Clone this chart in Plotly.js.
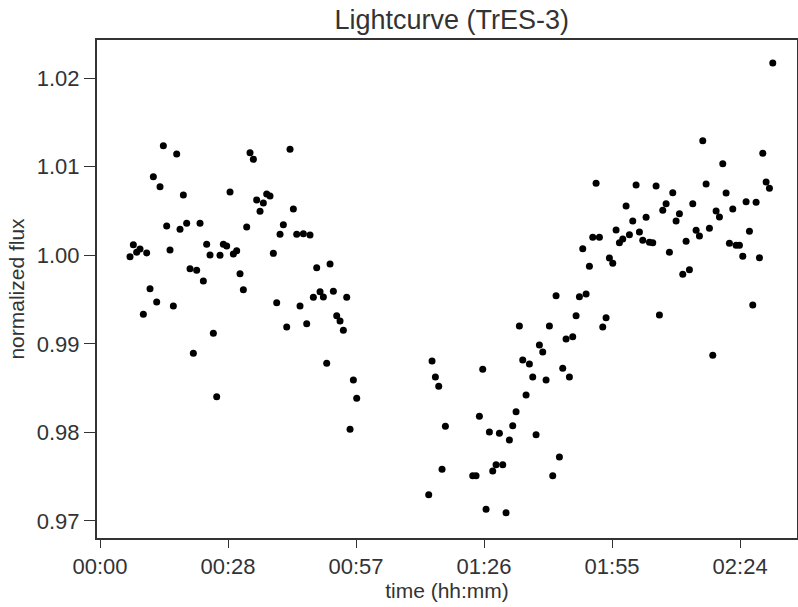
<!DOCTYPE html>
<html>
<head>
<meta charset="utf-8">
<script src="https://cdn.plot.ly/plotly-3.0.1.min.js"></script>
<style>html,body{margin:0;padding:0;background:#fff;}#chart{width:798px;height:607px;}</style>
</head>
<body>
<div id="chart"></div>
<script>
// time in minutes since start
const timeBefore = [6.75,7.5,8.25,9,9.75,10.5,11.25,12,12.75,13.5,14.25,15,15.75,16.5,17.25,18,18.75,19.5,20.25,21,21.75,22.5,23.25,24,24.75,25.5,26.25,27,27.75,28.5,29.25,30,30.75,31.5,32.25,33,33.75,34.5,35.25,36,36.75,37.5,38.25,39,39.75,40.5,41.25,42,42.75,43.5,44.25,45,45.75,46.5,47.25,48,48.75,49.5,50.25,51,51.75,52.5,53.25,54,54.75,55.5,56.25,57,57.75];
const fluxBefore = [0.99983,1.00118,1.00033,1.00070,0.99333,1.00025,0.99622,1.00886,0.99472,1.00773,1.01236,1.00330,1.00059,0.99427,1.01142,1.00292,1.00679,1.00360,0.99848,0.98893,0.99830,1.00360,0.99709,1.00123,1.00002,0.99118,0.98403,0.99999,1.00123,1.00104,1.00713,1.00013,1.00051,0.99791,0.99611,1.00318,1.01157,1.01082,1.00623,1.00495,1.00589,1.00691,1.00668,1.00021,0.99464,1.00236,1.00344,0.99190,1.01195,1.00521,1.00236,0.99427,1.00243,0.99227,1.00228,0.99525,0.99859,0.99588,0.99528,0.98780,0.99901,0.99592,0.99317,0.99257,0.99152,0.99525,0.98035,0.98591,0.98385];
const timeIngress = [73.95,74.7,75.45,76.2,76.95,77.7];
const fluxIngress = [0.97297,0.98806,0.98625,0.98520,0.97583,0.98069];
const timeAfter = [83.85,84.6,85.35,86.1,86.85,87.6,88.35,89.1,89.85,90.6,91.35,92.1,92.85,93.6,94.35,95.1,95.85,96.6,97.35,98.1,98.85,99.6,100.35,101.1,101.85,102.6,103.35,104.1,104.85,105.6,106.35,107.1,107.85,108.6,109.35,110.1,110.85,111.6,112.35,113.1,113.85,114.6,115.35,116.1,116.85,117.6,118.35,119.1,119.85,120.6,121.35,122.1,122.85,123.6,124.35,125.1,125.85,126.6,127.35,128.1,128.85,129.6,130.35,131.1,131.85,132.6,133.35,134.1,134.85,135.6,136.35,137.1,137.85,138.6,139.35,140.1,140.85,141.6,142.35,143.1,143.85,144.6,145.35,146.1,146.85,147.6,148.35,149.1,149.85,150.6,151.35];
const fluxAfter = [0.97511,0.97511,0.98182,0.98712,0.97132,0.98004,0.97564,0.97635,0.97990,0.97635,0.97094,0.97914,0.98075,0.98234,0.99201,0.98817,0.98422,0.98772,0.98625,0.97974,0.98986,0.98907,0.98591,0.99201,0.97511,0.99543,0.97722,0.98723,0.99054,0.98625,0.99080,0.99317,0.99532,1.00073,0.99562,0.99875,1.00202,1.00811,1.00202,0.99190,0.99295,0.99968,0.99909,1.00284,1.00141,1.00183,1.00555,1.00231,1.00386,1.00792,1.00262,1.00168,1.00428,1.00146,1.00141,1.00781,0.99325,1.00507,1.00581,1.00033,1.00705,1.00386,1.00468,0.99784,1.00157,0.99836,1.00581,1.00281,1.00217,1.01292,1.00804,1.00304,0.98870,1.00499,1.00431,1.01033,1.00702,1.00134,1.00521,1.00112,1.00112,0.99988,1.00604,1.00270,0.99438,1.00597,0.99972,1.01150,1.00826,1.00755,1.02169];

const xTickVals = [0,28.8,57.6,86.4,115.2,144];
const xTickText = ["00:00","00:28","00:57","01:26","01:55","02:24"];
const yTickVals = [0.97,0.98,0.99,1.00,1.01,1.02];

const timeAll = timeBefore.concat(timeIngress, timeAfter);
const fluxAll = fluxBefore.concat(fluxIngress, fluxAfter);

const FONT = 'Liberation Sans, Arial, sans-serif';

const trace = {
  x: timeAll, y: fluxAll, type: 'scatter', mode: 'markers',
  marker: {color: '#000000', size: 7}, showlegend: false, hoverinfo: 'skip'
};

const axisCommon = {
  showline: true, linecolor: '#333333', linewidth: 2, mirror: true,
  showgrid: false, zeroline: false,
  ticks: 'outside', tickwidth: 1, tickcolor: '#333333',
  tickfont: {family: FONT, size: 22, color: '#333333'}
};

const layout = {
  width: 798, height: 607,
  margin: {l: 97, r: 1, t: 40, b: 69},
  paper_bgcolor: '#ffffff', plot_bgcolor: '#ffffff',
  title: {text: 'Lightcurve (TrES-3)', x: 0.566, xanchor: 'center', y: 0.967, yanchor: 'middle',
          font: {family: FONT, size: 27, color: '#333333'}},
  xaxis: Object.assign({}, axisCommon, {
    ticklen: 8,
    range: [-0.675, 156.8], tickmode: 'array', tickvals: xTickVals, ticktext: xTickText,
    title: {text: 'time (hh:mm)', standoff: 4, font: {family: FONT, size: 21, color: '#333333'}}
  }),
  yaxis: Object.assign({}, axisCommon, {
    ticklen: 11,
    range: [0.96808, 1.02429], tickmode: 'array', tickvals: yTickVals, tickformat: '.2f',
    title: {text: 'normalized flux', standoff: 6, font: {family: FONT, size: 21, color: '#333333'}}
  })
};

Plotly.newPlot('chart', [trace], layout, {displayModeBar: false, staticPlot: true});
</script>
</body>
</html>
